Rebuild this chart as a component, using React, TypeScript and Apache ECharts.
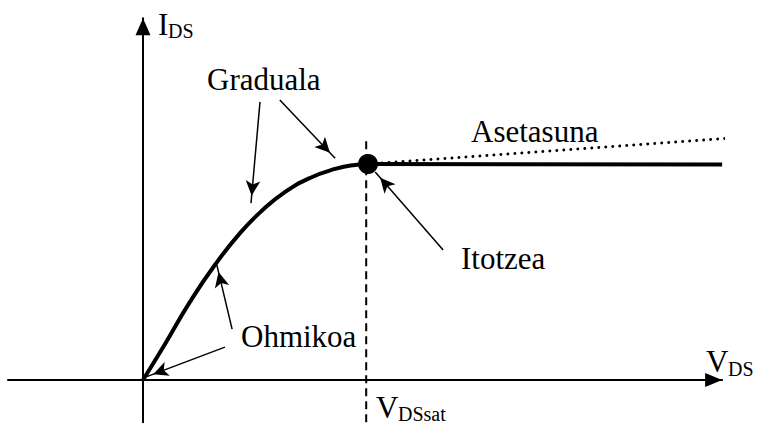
import React, { useEffect, useRef } from "react";
import * as echarts from "echarts";

// ---- data (arbitrary units: V_DS horizontal, I_DS vertical) ----
const curveV = [0, 0.49, 1.04, 1.6, 2.16, 2.64, 3.16, 3.71, 4.27, 4.71, 5.0];
const curveI = [0, 0.8, 1.73, 2.56, 3.27, 3.76, 4.18, 4.49, 4.69, 4.78, 4.8];
const satV = [5.0, 12.87];
const satI = [4.8, 4.79];
const slopeV = [5.0, 13.11];
const slopeI = [4.8, 5.38];
const vdsSat = 4.96;
const vdsSatSpan = [-0.94, 5.38];
const satPoint = [5.0, 4.8];

// annotation arrows: from (V, I) to (V, I)
const arrowFromV = [2.6, 3.04, 6.67, 1.98, 1.82];
const arrowFromI = [6.18, 6.22, 2.89, 1.13, 0.73];
const arrowToV = [2.4, 4.27, 5.16, 1.64, 0.07];
const arrowToI = [3.93, 4.93, 4.62, 2.56, 0.07];

const regionNames = ["Graduala", "Asetasuna", "Itotzea", "Ohmikoa"];
const axisMain = ["I", "V", "V"];
const axisSub = ["DS", "DS", "DSsat"];

// axis ranges
const xMin = -3;
const xMax = 12.87;
const yMin = -0.94;
const yMax = 8.04;

const FONT = "'Liberation Serif', 'Times New Roman', Times, serif";

export default function App() {
  const ref = useRef<HTMLDivElement>(null);
  useEffect(() => {
    if (!ref.current) return;
    const chart = echarts.init(ref.current, null, { renderer: "svg" });
    const px = 45; // px per unit
    const originX = 143;
    const originY = 380;
    const gridLeft = originX + xMin * px;
    const gridTop = originY - yMax * px;
    const gridW = (xMax - xMin) * px;
    const gridH = (yMax - yMin) * px;

    const big = 31;
    const small = 20;
    const mid = (fs: number) => 0.3375 * fs;
    const txt = (text: string, x: number, baseline: number, fs: number) => ({
      type: "text",
      x,
      y: baseline - mid(fs),
      silent: true,
      style: {
        text,
        fontFamily: FONT,
        fontSize: fs,
        fill: "#000",
        align: "left",
        verticalAlign: "middle",
      },
    });

    const arrowData = arrowFromV.map((v, i) => [
      { coord: [v, arrowFromI[i]], symbol: "none" },
      {
        coord: [arrowToV[i], arrowToI[i]],
        symbol: "arrow",
        symbolSize: [11, 15],
        symbolOffset: [0, 7.5],
      },
    ]);

    chart.setOption({
      animation: false,
      backgroundColor: "#fff",
      textStyle: { fontFamily: FONT },
      grid: { left: gridLeft, top: gridTop, width: gridW, height: gridH, containLabel: false },
      xAxis: {
        type: "value",
        min: xMin,
        max: xMax,
        axisLine: {
          show: true,
          onZero: true,
          symbol: ["none", "triangle"],
          symbolSize: [14, 17],
          symbolOffset: [0, -8.5],
          lineStyle: { color: "#000", width: 2 },
        },
        axisTick: { show: false },
        axisLabel: { show: false },
        splitLine: { show: false },
      },
      yAxis: {
        type: "value",
        min: yMin,
        max: yMax,
        axisLine: {
          show: true,
          onZero: true,
          symbol: ["none", "triangle"],
          symbolSize: [15, 17],
          symbolOffset: [0, -8.5],
          lineStyle: { color: "#000", width: 2 },
        },
        axisTick: { show: false },
        axisLabel: { show: false },
        splitLine: { show: false },
      },
      series: [
        {
          type: "line",
          data: curveV.map((v, i) => [v, curveI[i]]),
          smooth: 0.5,
          showSymbol: false,
          lineStyle: { color: "#000", width: 4 },
          z: 4,
        },
        {
          type: "line",
          data: satV.map((v, i) => [v, satI[i]]),
          showSymbol: false,
          lineStyle: { color: "#000", width: 4 },
          z: 4,
        },
        {
          type: "line",
          data: slopeV.map((v, i) => [v, slopeI[i]]),
          showSymbol: false,
          clip: false,
          lineStyle: { color: "#000", width: 3, type: [0.01, 7], cap: "round" },
          z: 3,
        },
        {
          type: "line",
          data: vdsSatSpan.map((i) => [vdsSat, i]),
          showSymbol: false,
          clip: false,
          lineStyle: { color: "#000", width: 2, type: [8, 5] },
          z: 2,
        },
        {
          type: "scatter",
          data: [satPoint],
          symbolSize: 20,
          itemStyle: { color: "#000", opacity: 1 },
          z: 5,
        },
        {
          type: "line",
          data: [],
          markLine: {
            silent: true,
            animation: false,
            symbol: ["none", "arrow"],
            label: { show: false },
            lineStyle: { color: "#000", width: 1.5, type: "solid" },
            itemStyle: { color: "#000" },
            emphasis: { disabled: true },
            data: arrowData,
          },
        },
      ],
      graphic: [
        txt(axisMain[0], 158, 35, big),
        txt(axisSub[0], 168, 38, small),
        txt(regionNames[0], 207, 90, big),
        txt(regionNames[1], 471, 142, big),
        txt(regionNames[2], 461, 269, big),
        txt(regionNames[3], 241, 347, big),
        txt(axisMain[1], 706, 372, big),
        txt(axisSub[1], 728, 376, small),
        txt(axisMain[2], 376, 418, big),
        txt(axisSub[2], 398, 421, small),
      ],
    });
    return () => chart.dispose();
  }, []);
  return (
    <div
      ref={ref}
      style={{ position: "absolute", left: 0, top: 0, width: 758, height: 425, background: "#fff" }}
    />
  );
}
